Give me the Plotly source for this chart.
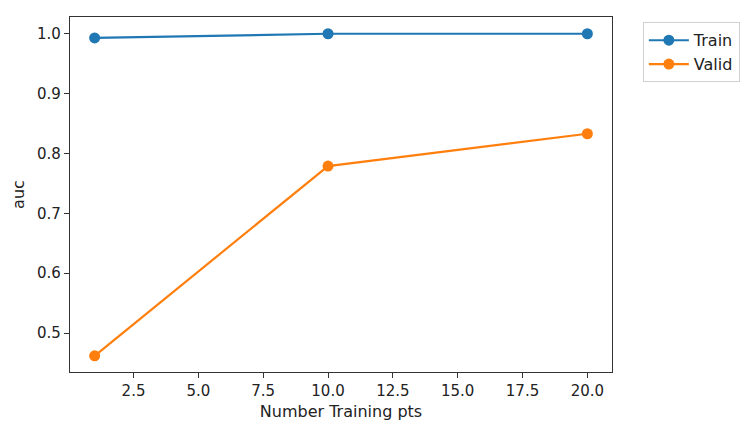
import plotly.graph_objects as go

x_pts = [1, 10, 20]
train_auc = [0.993, 1.0, 1.0]
valid_auc = [0.462, 0.779, 0.833]
x_ticks = [2.5, 5.0, 7.5, 10.0, 12.5, 15.0, 17.5, 20.0]
y_ticks = [0.5, 0.6, 0.7, 0.8, 0.9, 1.0]

fig = go.Figure()
fig.add_trace(go.Scatter(x=x_pts, y=train_auc, name="Train", mode="lines+markers",
                         line=dict(color="#1f77b4", width=2.2), marker=dict(size=11, color="#1f77b4")))
fig.add_trace(go.Scatter(x=x_pts, y=valid_auc, name="Valid", mode="lines+markers",
                         line=dict(color="#ff7f0e", width=2.2), marker=dict(size=11, color="#ff7f0e")))

axis_common = dict(showgrid=False, zeroline=False, showline=True, linecolor="#333", linewidth=1.2,
                   mirror=True, ticks="outside", ticklen=5, tickcolor="#333",
                   tickfont=dict(size=15, color="#222"))
fig.update_xaxes(range=[0.05, 20.95], tickvals=x_ticks, ticktext=[f"{v:.1f}" for v in x_ticks],
                 title=dict(text="Number Training pts", font=dict(size=16, color="#222"), standoff=6),
                 **axis_common)
fig.update_yaxes(range=[0.435, 1.028], tickvals=y_ticks, ticktext=[f"{v:.1f}" for v in y_ticks],
                 title=dict(text="auc", font=dict(size=16, color="#222"), standoff=8),
                 **axis_common)
fig.update_layout(
    width=751, height=432, paper_bgcolor="white", plot_bgcolor="white",
    margin=dict(l=70, r=138, t=17, b=60),
    font=dict(family="DejaVu Sans", size=15, color="#222"),
    legend=dict(x=1.055, y=0.985, xanchor="left", yanchor="top", bordercolor="#d0d0d0", borderwidth=1,
                font=dict(size=16), bgcolor="white", itemwidth=40,
                entrywidth=85, entrywidthmode="pixels"),
)
fig.write_html("out.html", config={"displayModeBar": False},
               post_script="document.body.style.margin='0px';")
